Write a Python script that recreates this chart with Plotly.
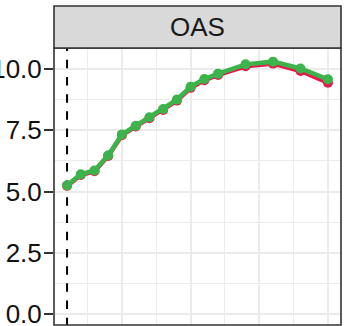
import plotly.graph_objects as go

x_vals = [1, 2, 3, 4, 5, 6, 7, 8, 9, 10, 11, 12, 14, 16, 18, 20]
green_vals = [5.25, 5.70, 5.86, 6.48, 7.33, 7.68, 8.03, 8.37, 8.75, 9.28, 9.59, 9.81, 10.19, 10.30, 10.02, 9.58]
red_vals = [5.23, 5.67, 5.83, 6.45, 7.30, 7.65, 7.99, 8.33, 8.71, 9.23, 9.54, 9.76, 10.11, 10.22, 9.92, 9.44]
panel_title = "OAS"
ref_x = 1
y_ticks = [0.0, 2.5, 5.0, 7.5, 10.0]

fig = go.Figure()
fig.add_trace(go.Scatter(x=x_vals, y=red_vals, mode="lines+markers",
                         line=dict(color="#E6194B", width=4.5),
                         marker=dict(color="#E6194B", size=10), showlegend=False))
fig.add_trace(go.Scatter(x=x_vals, y=green_vals, mode="lines+markers",
                         line=dict(color="#3CB44B", width=4.5),
                         marker=dict(color="#3CB44B", size=10), showlegend=False))

fig.add_shape(type="line", xref="x", yref="y", x0=ref_x, x1=ref_x, y0=11.08, y1=-0.7,
              line=dict(color="black", width=2, dash="8.5px,8.7px"), layer="between")

# panel border
fig.add_shape(type="rect", xref="paper", yref="paper", x0=0, x1=1, y0=0, y1=1,
              line=dict(color="#333333", width=1.6), fillcolor="rgba(0,0,0,0)", layer="above")
# strip
strip_h = 42 / 277
fig.add_shape(type="rect", xref="paper", yref="paper", x0=0, x1=1, y0=1, y1=1 + strip_h,
              line=dict(color="#333333", width=1.6), fillcolor="#D9D9D9", layer="above")
fig.add_annotation(text=panel_title, xref="paper", yref="paper", x=0.5, y=1 + strip_h / 2,
                   showarrow=False, font=dict(family="Liberation Sans", size=26, color="#1A1A1A"),
                   xanchor="center", yanchor="middle")

fig.update_layout(
    width=349, height=326,
    margin=dict(l=54, r=8, t=48, b=1, autoexpand=False),
    plot_bgcolor="white", paper_bgcolor="white",
    font=dict(family="Liberation Sans"),
)
fig.update_xaxes(range=[0.05, 20.95], tick0=0, dtick=5, showticklabels=False,
                 showgrid=True, gridcolor="#EBEBEB", gridwidth=2, zeroline=False,
                 ticks="", showline=False,
                 minor=dict(tick0=0, dtick=2.5, showgrid=True, gridcolor="#EBEBEB", gridwidth=1))
fig.update_yaxes(range=[-0.449, 10.857], tickvals=y_ticks, tickformat=".1f",
                 showgrid=True, gridcolor="#EBEBEB", gridwidth=2, zeroline=False,
                 ticks="outside", ticklen=9, tickwidth=2, tickcolor="#333333",
                 tickfont=dict(family="Liberation Sans", size=26, color="#111111"),
                 ticklabeloverflow="allow", ticklabelstandoff=-3,
                 showline=False,
                 minor=dict(tick0=0, dtick=1.25, showgrid=True, gridcolor="#EBEBEB", gridwidth=1))

fig.write_html("out.html", config={"displayModeBar": False},
               post_script="document.body.style.margin='0px';document.body.style.overflow='hidden';")
